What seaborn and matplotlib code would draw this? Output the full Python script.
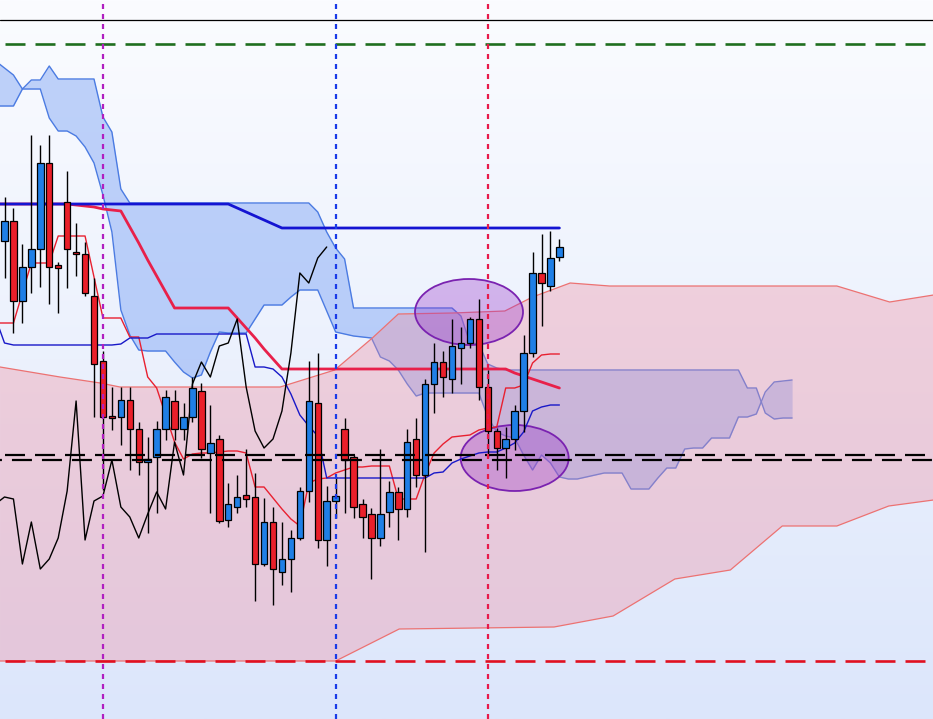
import numpy as np
import pandas as pd
import matplotlib
matplotlib.use("Agg")
import matplotlib.pyplot as plt
import seaborn as sns
from matplotlib.patches import Ellipse, Polygon

sns.set_theme(style="white")
plt.rcParams["lines.scale_dashes"] = False

# ---------------- data (price axis is screen oriented: larger value = lower price) ----------------
opens = [241, 221, 301, 267, 249, 163, 265, 202, 252, 254, 296, 361, 416, 417, 400, 429,
         462, 457, 429, 401, 429, 417, 391, 453, 439, 520, 507, 495, 497, 564, 522, 572,
         559, 538, 491, 403, 540, 501, 429, 457, 504, 514, 538, 512, 492, 509, 439, 475,
         384, 362, 379, 348, 343, 319, 387, 431, 448, 439, 411, 353, 273, 286, 257]
highs = [197, 208, 244, 135, 145, 135, 262, 171, 223, 242, 278, 351, 387, 387, 387, 422,
         437, 421, 390, 390, 403, 377, 383, 405, 435, 483, 475, 449, 473, 498, 507, 522,
         530, 487, 361, 353, 486, 477, 418, 455, 499, 508, 449, 481, 487, 429, 418, 379,
         343, 351, 319, 327, 317, 299, 370, 428, 427, 405, 335, 252, 234, 231, 239]
lows = [278, 333, 323, 293, 287, 304, 313, 288, 276, 296, 417, 490, 430, 445, 470, 475,
        533, 513, 440, 440, 440, 422, 458, 513, 523, 527, 513, 507, 601, 566, 605, 585,
        592, 540, 502, 548, 566, 518, 513, 518, 538, 579, 546, 527, 540, 517, 487, 552,
        413, 397, 393, 384, 348, 400, 457, 470, 478, 450, 432, 357, 326, 291, 261]
closes = [221, 301, 267, 249, 163, 267, 268, 249, 254, 293, 364, 417, 418, 400, 429, 462,
          459, 429, 397, 429, 417, 388, 449, 443, 521, 504, 497, 499, 564, 522, 569, 559,
          538, 491, 401, 540, 501, 496, 460, 507, 517, 538, 514, 492, 509, 442, 475, 384,
          362, 377, 346, 343, 319, 387, 431, 448, 439, 411, 353, 273, 283, 258, 247]

# bars -1 .. 62
tenkan = [323, 323, 323, 293, 263, 263, 263, 236, 236, 236, 236, 277, 318, 318, 318, 337,
          337, 377, 388, 415, 442, 459, 454, 453, 453, 452, 451, 451, 453, 487, 487, 498,
          509, 519, 526, 483, 479, 478, 473, 470, 467, 467, 466, 466, 466, 499, 499, 499,
          474, 453, 444, 437, 436, 435, 430, 428, 427, 388, 388, 385, 363, 355, 354, 354]
kijun = [318, 343, 345, 345, 345, 345, 345, 345, 345, 345, 345, 345, 345, 345, 344, 338,
         338, 338, 334, 334, 334, 334, 334, 334, 334, 334, 334, 334, 334, 367, 367, 369,
         377, 394, 415, 426, 436, 478, 478, 478, 478, 478, 478, 478, 478, 478, 478, 478,
         478, 473, 472, 463, 459, 456, 453, 452, 452, 448, 443, 432, 411, 407, 405, 405]
ref_blue = [204] * 27 + [208, 212, 216, 220, 224] + [228] * 32
ref_red = ([204] * 9 + [205, 206, 207, 209, 210, 211, 227, 243, 260, 276, 292] + [308] * 7
           + [318, 328, 338, 349, 359] + [369] * 26 + [373, 376, 379, 382, 385, 388])

# cloud spans, bars -1 .. 88
span_p = ([61, 68, 75, 89, 80, 80, 66, 79, 79, 79, 79, 79, 117, 132, 189] + [203] * 21
          + [212, 232, 248, 259] + [308] * 12 + [316, 343, 344, 364, 368] + [370] * 27
          + [388, 388, 413, 419, 418, 418])
span_q = [106, 106, 106, 89, 89, 89, 118, 131, 131, 136, 147, 163, 195, 232, 310, 335,
          350, 351, 351, 351, 362, 372, 378, 375, 352, 332, 333, 333, 333, 319, 305, 305,
          305, 297, 290, 290, 290, 311, 332, 334, 336, 337, 338, 357, 361, 370, 384, 396,
          393, 393, 393, 393, 393, 393, 393, 417, 432, 436, 438, 455, 470, 455, 463, 477,
          479, 479, 477, 475, 473, 473, 473, 489, 489, 489, 478, 468, 468, 449, 448, 448,
          438, 438, 438, 417, 417, 414, 392, 382, 381, 380]

# higher-timeframe cloud (bar positions, levels)
htf_upper_pos = [-0.5, 6.2, 10.7, 12.9, 30.8, 36.9, 41.1, 44.0, 50.1, 55.9, 59.0, 63.2,
                 67.6, 93.0, 98.9, 103.8]
htf_upper = [367, 377, 383, 387, 387, 370, 338, 314, 313, 311, 297, 283, 286, 286, 302, 295]
htf_lower_pos = [-0.5, 37.0, 44.1, 61.4, 68.0, 74.9, 81.1, 86.9, 93.0, 98.8, 103.8]
htf_lower = [661, 661, 629, 627, 616, 579, 570, 526, 526, 506, 500]

top_level = 20
green_level = 44
black_levels = [455, 459.5]
red_level = 661
vline_bars = [11, 37, 54]

# ---------------- figure ----------------
W, H = 933, 719
fig = plt.figure(figsize=(W / 100, H / 100), dpi=100)

bg = fig.add_axes([0, 0, 1, 1], zorder=0)
top_c = np.array([251, 252, 255]) / 255
bot_c = np.array([220, 230, 251]) / 255
t = np.linspace(0, 1, 256)[:, None, None]
grad = top_c[None, None, :] * (1 - t) + bot_c[None, None, :] * t
bg.imshow(grad, aspect="auto", extent=[0, 1, 0, 1], origin="upper")
bg.set_axis_off()

ax = fig.add_axes([0, 0, 1, 1], zorder=1)
ax.patch.set_alpha(0)
x_left = (0 - 4.5) / 8.95
x_right = (W - 4.5) / 8.95
ax.set_xlim(x_left, x_right)
ax.set_ylim(H, 0)
ax.set_axis_off()

# blue (chart timeframe) cloud
pos_span = np.arange(-1, -1 + len(span_p))
ax.fill_between(pos_span, span_p, span_q, color=(120 / 255, 160 / 255, 245 / 255),
                alpha=0.45, lw=0, zorder=2)
ax.plot(pos_span, span_p, color="#4b7be2", lw=1.0, zorder=2.2)
ax.plot(pos_span, span_q, color="#4b7be2", lw=1.0, zorder=2.2)

# red (higher timeframe) cloud
poly = list(zip(htf_upper_pos, htf_upper)) + list(zip(htf_lower_pos[::-1], htf_lower[::-1]))
ax.add_patch(Polygon(poly, closed=True, facecolor=(240 / 255, 140 / 255, 160 / 255),
                     alpha=0.35, lw=0, zorder=3))
ax.plot(htf_upper_pos, htf_upper, color="#ec7272", lw=0.9, zorder=3.2)
ax.plot(htf_lower_pos, htf_lower, color="#ec7272", lw=0.9, zorder=3.2)

# ellipses (highlight areas)
for cx, cy in [(51.9, 312), (57.0, 458)]:
    ax.add_patch(Ellipse((cx, cy), width=108 / 8.95, height=66,
                         facecolor=(150 / 255, 50 / 255, 200 / 255), alpha=0.33,
                         edgecolor="none", zorder=4))
    ax.add_patch(Ellipse((cx, cy), width=108 / 8.95, height=66, facecolor="none",
                         edgecolor="#7a22b0", lw=1.3, zorder=4.1))

# lines with seaborn
bars_ln = np.arange(-1, 63)
lines_df = pd.DataFrame({"bar": bars_ln, "tenkan": tenkan, "kijun": kijun,
                         "ref_blue": ref_blue, "ref_red": ref_red})
sns.lineplot(data=lines_df, x="bar", y="ref_red", ax=ax, color="#e8204a", lw=2.0,
             sort=False, zorder=5)
sns.lineplot(data=lines_df, x="bar", y="ref_blue", ax=ax, color="#1414d2", lw=2.0,
             sort=False, zorder=5.1)
sns.lineplot(data=lines_df, x="bar", y="tenkan", ax=ax, color="#e82030", lw=1.0,
             sort=False, zorder=5.2)
sns.lineplot(data=lines_df, x="bar", y="kijun", ax=ax, color="#1818c8", lw=1.0,
             sort=False, zorder=5.2)

# lagging span: closes shifted back 26 bars
chikou_df = pd.DataFrame({"bar": np.arange(len(closes)) - 26, "close": closes})
sns.lineplot(data=chikou_df, x="bar", y="close", ax=ax, color="black", lw=1.0,
             sort=False, zorder=5.3)

# candles
o = np.array(opens, float)
c = np.array(closes, float)
hi = np.array(highs, float)
lo = np.array(lows, float)
xb = np.arange(len(o))
up = c < o
cols = np.where(up, "#1f7fe6", "#ea1f2a")
ax.vlines(xb, hi, lo, color="black", lw=1.0, zorder=6)
ax.bar(xb, np.abs(c - o), bottom=np.minimum(o, c), width=0.72, color=cols,
       edgecolor="black", linewidth=0.9, zorder=7)

# horizontal levels
ax.axhline(top_level, color="black", lw=0.9, zorder=8)
ax.axhline(green_level, color="#1f6e1f", lw=1.9, linestyle=(18, (14.4, 7.2)), zorder=8)
ax.axhline(red_level, color="#e01020", lw=1.9, linestyle=(18, (14.4, 7.2)), zorder=8)
ax.axhline(black_levels[0], color="black", lw=1.6, linestyle=(18, (14.4, 7.2)), zorder=9)
ax.axhline(black_levels[1], color="black", lw=1.6, linestyle=(13, (14.4, 7.2)), zorder=9)

# vertical markers
for b, col in zip(vline_bars, ["#b020c0", "#1a3be8", "#e8194a"]):
    ax.axvline(b, color=col, lw=1.6, linestyle=(0, (3.6, 3.6)), zorder=9)

fig.savefig("out.png", dpi=100)
